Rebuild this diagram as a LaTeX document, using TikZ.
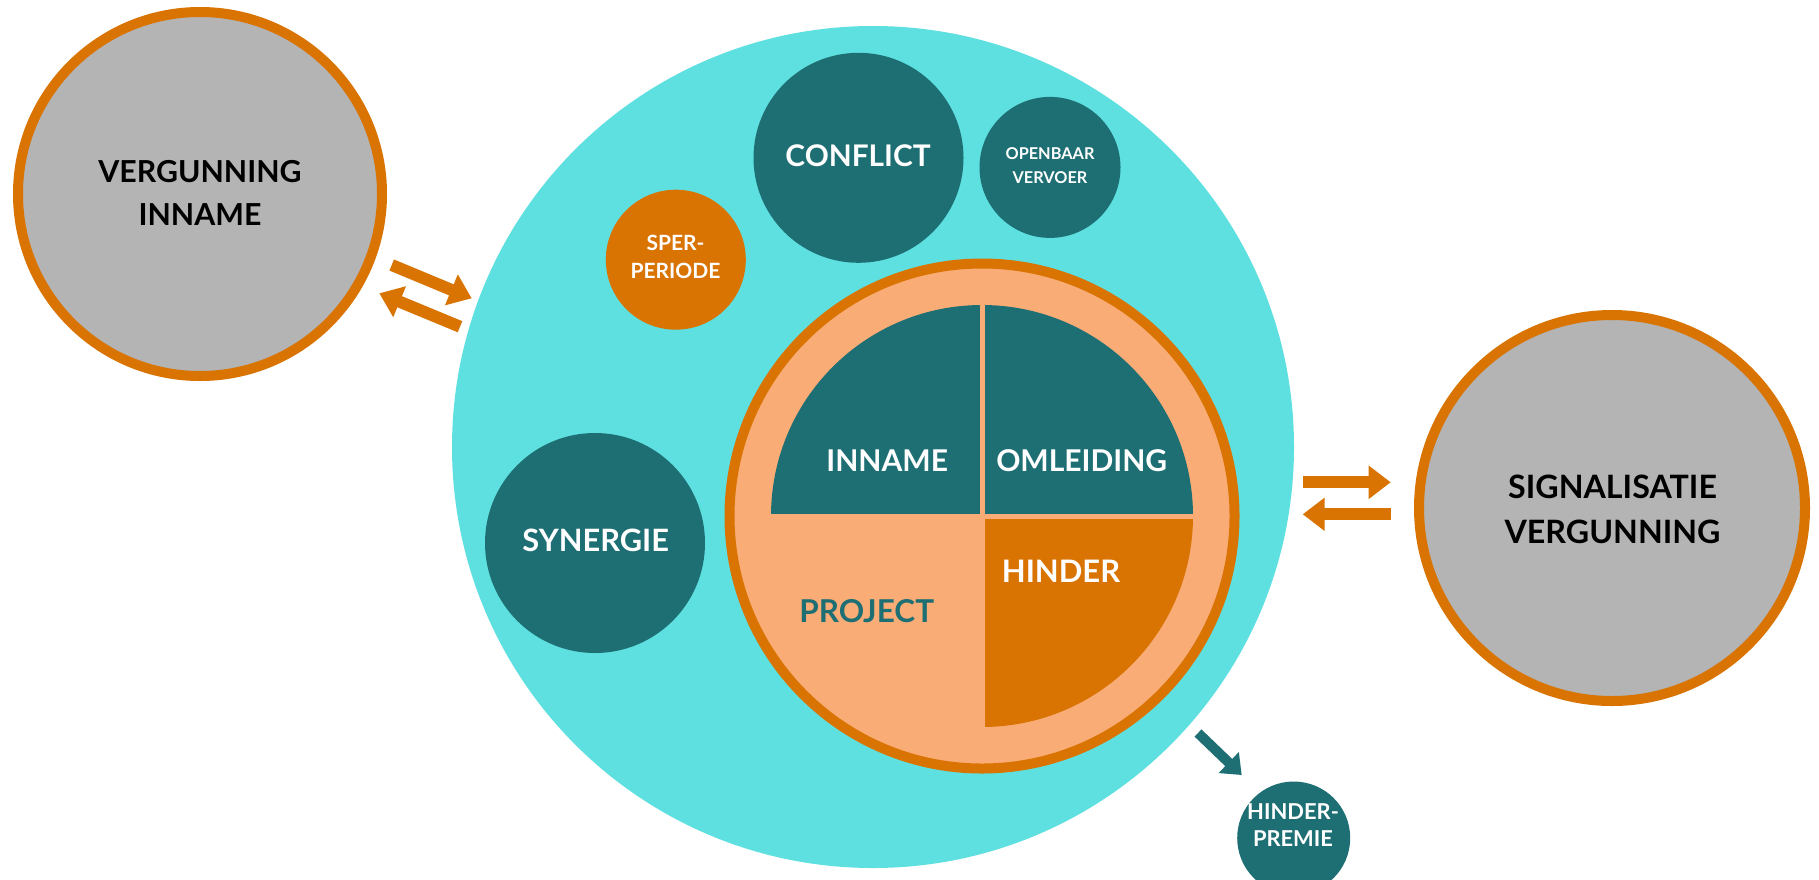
\documentclass[tikz,border=0pt]{standalone}
\usepackage{fontspec}
\setmainfont{Lato}
\usetikzlibrary{arrows.meta}
\definecolor{cyanbg}{HTML}{5EE0E0}
\definecolor{tealc}{HTML}{1E6F73}
\definecolor{orangec}{HTML}{D97403}
\definecolor{peachc}{HTML}{FAAC76}
\definecolor{grayc}{HTML}{B4B4B4}
\tikzset{
  disc/.style={circle, inner sep=0pt, outer sep=0pt},
  bigring/.style={disc, fill=grayc, draw=orangec, line width=10pt},
  lbl/.style={inner sep=0pt, outer sep=0pt, align=center, font=\bfseries},
  arrO/.style={draw=orangec, line width=12pt, -{Triangle[length=22pt,width=32pt]}},
  arrT/.style={draw=tealc, line width=10pt, -{Triangle[length=18pt,width=28pt]}},
}
\newcommand{\fs}[2]{\fontsize{#1}{#2}\selectfont\bfseries}
\begin{document}
\begin{tikzpicture}[x=1pt,y=-1pt]
\useasboundingbox (0,0) rectangle (1819,879);
\clip (0,0) rectangle (1819,879);
\fill[white] (0,0) rectangle (1819,879);

% big cyan circle
\node[disc, fill=cyanbg, minimum size=842pt] (main) at (873,447) {};

% outer grey circles
\node[bigring, minimum size=364pt] (vi) at (200,194) {};
\node[bigring, minimum size=386pt] (sv) at (1612,508) {};

% small circles inside cyan
\node[disc, fill=tealc, minimum size=210pt] (conflict) at (858.5,157.8) {};
\node[disc, fill=tealc, minimum size=141pt] (ov) at (1050,167.4) {};
\node[disc, fill=orangec, minimum size=140pt] (sper) at (675.8,259.7) {};
\node[disc, fill=tealc, minimum size=220pt] (syn) at (595,543) {};
\node[disc, fill=tealc, minimum size=113pt] (hp) at (1293.7,838) {};

% project circle
\node[disc, fill=peachc, draw=orangec, line width=10pt, minimum size=505pt] (proj) at (982,516) {};
\coordinate (pc) at (982,516);
\fill[tealc] (pc) -- ++(-211pt,0pt) arc[start angle=180, end angle=90, radius=211pt] -- cycle;
\fill[tealc] (pc) -- ++(0pt,211pt) arc[start angle=90, end angle=0, radius=211pt] -- cycle;
\fill[orangec] (pc) -- ++(211pt,0pt) arc[start angle=0, end angle=-90, radius=211pt] -- cycle;
\draw[peachc, line width=5pt] (pc) ++(-216pt,0pt) -- ++(432pt,0pt);
\draw[peachc, line width=5pt] (pc) ++(0pt,216pt) -- ++(0pt,-432pt);

% labels
\node[lbl, text=black, font=\fs{30.3}{42.7}] (tvi) at (200,192.9) {VERGUNNING\\INNAME};
\node[lbl, text=black, font=\fs{32.2}{45}] (tsv) at (1612.5,509.2) {SIGNALISATIE\\VERGUNNING};
\node[lbl, text=white, font=\fs{29.8}{36}] (tconf) at (858,156.2) {CONFLICT};
\node[lbl, text=white, font=\fs{30.8}{36}] (tsyn) at (595.7,540) {SYNERGIE};
\node[lbl, text=white, font=\fs{21}{27.6}] (tsper) at (675.5,257) {SPER-\\PERIODE};
\node[lbl, text=white, font=\fs{16.3}{24}] (tov) at (1050,165.5) {OPENBAAR\\VERVOER};
\node[lbl, text=white, font=\fs{21.9}{27.3}] (thp) at (1293,824.9) {HINDER-\\PREMIE};
\node[lbl, text=white, font=\fs{30}{36}] (tinn) at (887.2,461) {INNAME};
\node[lbl, text=white, font=\fs{30}{36}] (toml) at (1081.7,461) {OMLEIDING};
\node[lbl, text=white, font=\fs{31}{36}] (thin) at (1061,571.2) {HINDER};
\node[lbl, text=tealc, font=\fs{31.5}{36}] (tproj) at (866.7,610.7) {PROJECT};

% arrows
\coordinate (l1s) at (391.7,265);
\coordinate (l1e) at (471.7,298.3);
\coordinate (l2s) at (460,326.7);
\coordinate (l2e) at (379.3,293.3);
\coordinate (r1s) at (1303.3,482.3);
\coordinate (r1e) at (1390.7,482.3);
\coordinate (r2s) at (1390.7,514.3);
\coordinate (r2e) at (1302.7,514.3);
\coordinate (hs) at (1198,733);
\coordinate (he) at (1241.7,775);
\draw[arrO] (l1s) -- (l1e);
\draw[arrO] (l2s) -- (l2e);
\draw[arrO] (r1s) -- (r1e);
\draw[arrO] (r2s) -- (r2e);
\draw[arrT] (hs) -- (he);
\end{tikzpicture}
\end{document}
